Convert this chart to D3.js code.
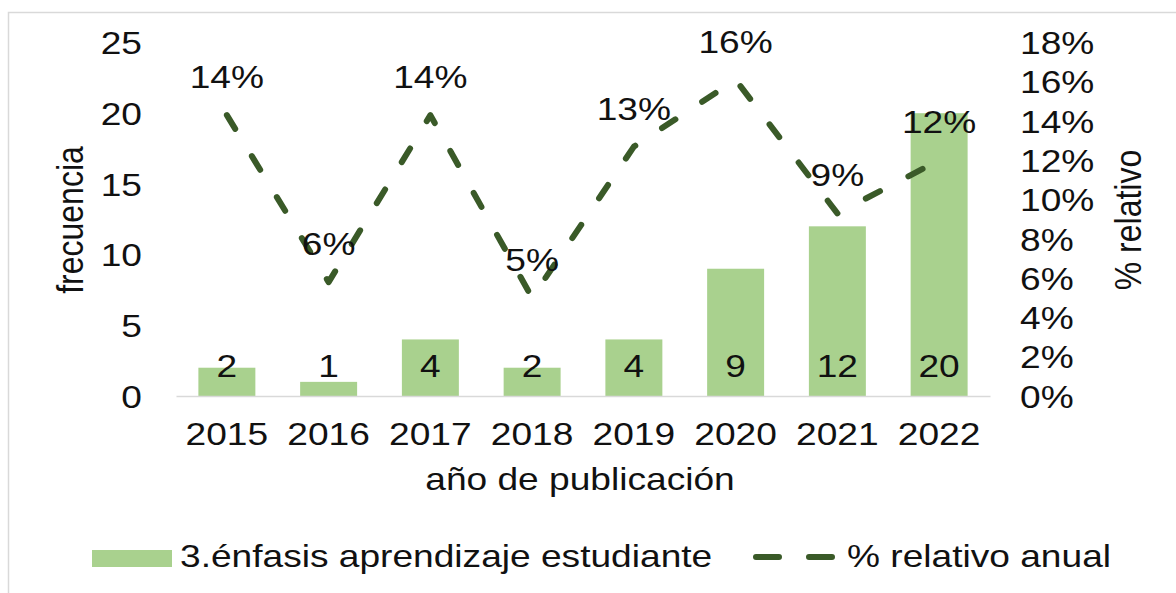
<!DOCTYPE html>
<html>
<head>
<meta charset="utf-8">
<script src="https://cdn.jsdelivr.net/npm/d3@7"></script>
<style>
  html, body { margin: 0; padding: 0; background: #fff; }
  svg { display: block; }
  text { font-family: "Liberation Sans", Arial, sans-serif; font-size: 32px; fill: #111; }
</style>
</head>
<body>
<div id="chart"></div>
<script>
// data
var years = ['2015', '2016', '2017', '2018', '2019', '2020', '2021', '2022'];
var frecuencia = [2, 1, 4, 2, 4, 9, 12, 20];
var relativo = [0.143, 0.058, 0.143, 0.050, 0.127, 0.161, 0.093, 0.120];
var leftTicks = [0, 5, 10, 15, 20, 25];
var rightTicks = [0, 0.02, 0.04, 0.06, 0.08, 0.10, 0.12, 0.14, 0.16, 0.18];
var barName = '3.énfasis aprendizaje estudiante';
var lineName = '% relativo anual';

var W = 1176, H = 593;
var S = 1.16; // the source picture is stretched sideways a little
var barColor = '#a9d18e';
var lineColor = '#3a5a28';

var svg = d3.select('#chart').append('svg')
  .attr('width', W)
  .attr('height', H);

// outer frame (only top and left edges are visible)
svg.append('rect')
  .attr('x', 8.5).attr('y', 12.5)
  .attr('width', 1300).attr('height', 700)
  .attr('fill', 'none')
  .attr('stroke', '#d9d9d9')
  .attr('stroke-width', 1.5);

var x = d3.scaleBand()
  .domain(years)
  .range([176, 990])
  .paddingInner(0.44)
  .paddingOuter(0.22);

var yL = d3.scaleLinear().domain([0, 25]).range([396, 42.5]);
var yR = d3.scaleLinear().domain([0, 0.18]).range([396, 42.5]);

function stretch(sel, tx, ty, rot) {
  sel.attr('x', 0).attr('y', 0)
    .attr('transform', 'translate(' + tx + ',' + ty + ') scale(' + S + ',1)' + (rot ? ' rotate(' + rot + ')' : ''));
}

// bars
svg.append('g').selectAll('rect')
  .data(frecuencia)
  .join('rect')
  .attr('x', (d, i) => x(years[i]))
  .attr('width', x.bandwidth())
  .attr('y', d => yL(d))
  .attr('height', d => yL(0) - yL(d))
  .attr('fill', barColor);

// x axis
var gx = svg.append('g')
  .attr('transform', 'translate(0,' + yL(0) + ')')
  .call(d3.axisBottom(x).tickSize(0).tickSizeOuter(0));
gx.attr('font-size', null).attr('font-family', null);
gx.select('.domain').attr('stroke', '#d9d9d9').attr('stroke-width', 1.5);
gx.selectAll('text')
  .attr('dy', null)
  .attr('fill', null)
  .each(function() { stretch(d3.select(this), 0, 49); });

// left axis
var gl = svg.append('g')
  .attr('transform', 'translate(142,0)')
  .call(d3.axisLeft(yL).tickValues(leftTicks).tickSize(0));
gl.attr('font-size', null).attr('font-family', null);
gl.select('.domain').remove();
gl.selectAll('text')
  .attr('fill', null)
  .attr('dy', '0.35em')
  .each(function() { stretch(d3.select(this), 0, 0); });

// right axis
var gr = svg.append('g')
  .attr('transform', 'translate(1020,0)')
  .call(d3.axisRight(yR).tickValues(rightTicks).tickSize(0).tickFormat(d3.format('.0%')));
gr.attr('font-size', null).attr('font-family', null);
gr.select('.domain').remove();
gr.selectAll('text')
  .attr('fill', null)
  .attr('dy', '0.35em')
  .each(function() { stretch(d3.select(this), 0, 0); });

// axis titles
svg.append('text').attr('text-anchor', 'middle').attr('dy', '0.35em')
  .text('frecuencia')
  .call(stretch, 70, 220, -90);
svg.append('text').attr('text-anchor', 'middle').attr('dy', '0.35em')
  .text('% relativo')
  .call(stretch, 1128, 220, -90);
svg.append('text').attr('text-anchor', 'middle')
  .text('año de publicación')
  .call(stretch, 580, 490);

// dashed line
var line = d3.line()
  .x((d, i) => x(years[i]) + x.bandwidth() / 2)
  .y(d => yR(d));

svg.append('path')
  .datum(relativo)
  .attr('d', line)
  .attr('fill', 'none')
  .attr('stroke', lineColor)
  .attr('stroke-width', 6)
  .attr('stroke-linecap', 'round')
  .attr('stroke-linejoin', 'round')
  .attr('stroke-dasharray', '16 32');

// bar value labels (inside base)
svg.append('g').selectAll('text')
  .data(frecuencia)
  .join('text')
  .attr('text-anchor', 'middle')
  .text(d => d)
  .each(function(d, i) { stretch(d3.select(this), x(years[i]) + x.bandwidth() / 2, 377); });

// percent labels above the points
svg.append('g').selectAll('text')
  .data(relativo)
  .join('text')
  .attr('text-anchor', 'middle')
  .text(d => Math.round(d * 100) + '%')
  .each(function(d, i) { stretch(d3.select(this), x(years[i]) + x.bandwidth() / 2, yR(d) - 27); });

// legend
svg.append('rect')
  .attr('x', 92).attr('y', 550)
  .attr('width', 80).attr('height', 17)
  .attr('fill', barColor);
svg.append('text').text(barName).call(stretch, 180, 567);

svg.append('path')
  .attr('d', d3.line()([[756, 557], [832, 557]]))
  .attr('stroke', lineColor)
  .attr('stroke-width', 6)
  .attr('stroke-linecap', 'round')
  .attr('stroke-dasharray', '23 30');
svg.append('text').text(lineName).call(stretch, 847, 567);
</script>
</body>
</html>
